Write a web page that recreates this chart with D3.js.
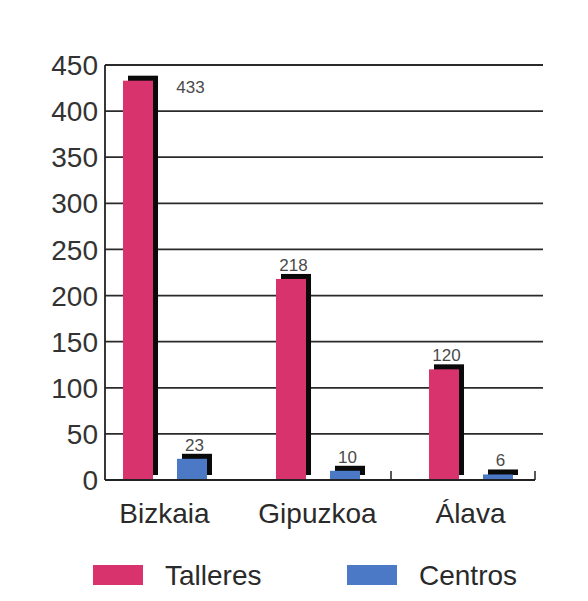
<!DOCTYPE html>
<html>
<head>
<meta charset="utf-8">
<script src="https://cdn.jsdelivr.net/npm/d3@7"></script>
<style>
  html, body { margin: 0; padding: 0; background: #fff; }
  svg { display: block; font-family: "Liberation Sans", Arial, sans-serif; }
</style>
</head>
<body>
<svg id="chart" width="588" height="601"></svg>
<script>
// Provinces and counts per series
const provinces = ["Bizkaia", "Gipuzkoa", "Álava"];
const seriesNames = ["Talleres", "Centros"];
const talleres = [433, 218, 120];
const centros = [23, 10, 6];
const yTicks = [0, 50, 100, 150, 200, 250, 300, 350, 400, 450];

const colors = { Talleres: "#d9336d", Centros: "#4b79c6" };
const valuesBySeries = { Talleres: talleres, Centros: centros };

const svg = d3.select("#chart");

const axisLeftX = 105, axisRightX = 535, gridRightX = 543;
const y = d3.scaleLinear().domain([0, 450]).range([480, 65]);

// group bands, each centred under its province label
const x0 = d3.scaleBand().domain(provinces).range([88, 547]).padding(0);
const x1 = d3.scaleBand().domain(seriesNames).range([35, 119]).paddingInner(0.444).paddingOuter(0);

// horizontal gridlines
svg.append("g")
  .selectAll("line")
  .data(yTicks.filter(d => d > 0))
  .join("line")
  .attr("x1", axisLeftX).attr("x2", gridRightX)
  .attr("y1", d => y(d)).attr("y2", d => y(d))
  .attr("stroke", "#2a2a2a").attr("stroke-width", 1.8);

// y tick labels
svg.append("g")
  .selectAll("text")
  .data(yTicks)
  .join("text")
  .attr("x", 98).attr("y", d => y(d))
  .attr("dy", "0.36em")
  .attr("text-anchor", "end")
  .attr("font-size", 28)
  .attr("fill", "#333")
  .text(d => d);

// bars with offset dark backing for the depth effect
const rows = [];
provinces.forEach((p, i) => {
  seriesNames.forEach(s => rows.push({ province: p, series: s, value: valuesBySeries[s][i] }));
});

const depth = 5;
const barG = svg.append("g");
barG.selectAll("rect.back")
  .data(rows)
  .join("rect")
  .attr("class", "back")
  .attr("x", d => x0(d.province) + x1(d.series) + depth)
  .attr("y", d => y(d.value) - depth)
  .attr("width", x1.bandwidth())
  .attr("height", d => y(0) - y(d.value))
  .attr("fill", "#0a0a0a");

barG.selectAll("rect.front")
  .data(rows)
  .join("rect")
  .attr("class", "front")
  .attr("x", d => x0(d.province) + x1(d.series))
  .attr("y", d => y(d.value))
  .attr("width", x1.bandwidth())
  .attr("height", d => y(0) - y(d.value))
  .attr("fill", d => colors[d.series]);

// value labels; the tallest bar has its label beside it
svg.append("g")
  .selectAll("text")
  .data(rows)
  .join("text")
  .attr("x", d => {
    const cx = x0(d.province) + x1(d.series) + x1.bandwidth() / 2 + depth / 2;
    return d.value > 400 ? cx + 50 : cx;
  })
  .attr("y", d => d.value > 400 ? y(d.value) + 12 : y(d.value) - depth - 3)
  .attr("text-anchor", "middle")
  .attr("font-size", 17)
  .attr("fill", "#4a4a4a")
  .text(d => d.value);

// axes lines
svg.append("line")
  .attr("x1", axisLeftX).attr("x2", axisLeftX)
  .attr("y1", y(450)).attr("y2", y(0))
  .attr("stroke", "#222").attr("stroke-width", 1.8);
svg.append("line")
  .attr("x1", axisLeftX).attr("x2", axisRightX)
  .attr("y1", y(0)).attr("y2", y(0))
  .attr("stroke", "#222").attr("stroke-width", 1.8);

// small separator ticks on the category axis
svg.append("g")
  .selectAll("line")
  .data([391, axisRightX])
  .join("line")
  .attr("x1", d => d).attr("x2", d => d)
  .attr("y1", y(0)).attr("y2", y(0) - 9)
  .attr("stroke", "#222").attr("stroke-width", 1.5);

// category labels
svg.append("g")
  .selectAll("text")
  .data(provinces)
  .join("text")
  .attr("x", d => x0(d) + x0.bandwidth() / 2)
  .attr("y", 523)
  .attr("text-anchor", "middle")
  .attr("font-size", 28)
  .attr("fill", "#2a2a2a")
  .text(d => d);

// legend
const legendX = { Talleres: 93, Centros: 347 };
const legend = svg.append("g")
  .selectAll("g")
  .data(seriesNames)
  .join("g")
  .attr("transform", d => `translate(${legendX[d]},565)`);
legend.append("rect")
  .attr("width", 50).attr("height", 20)
  .attr("fill", d => colors[d]);
legend.append("text")
  .attr("x", 72).attr("y", 20)
  .attr("font-size", 28)
  .attr("fill", "#2a2a2a")
  .text(d => d);
</script>
</body>
</html>
